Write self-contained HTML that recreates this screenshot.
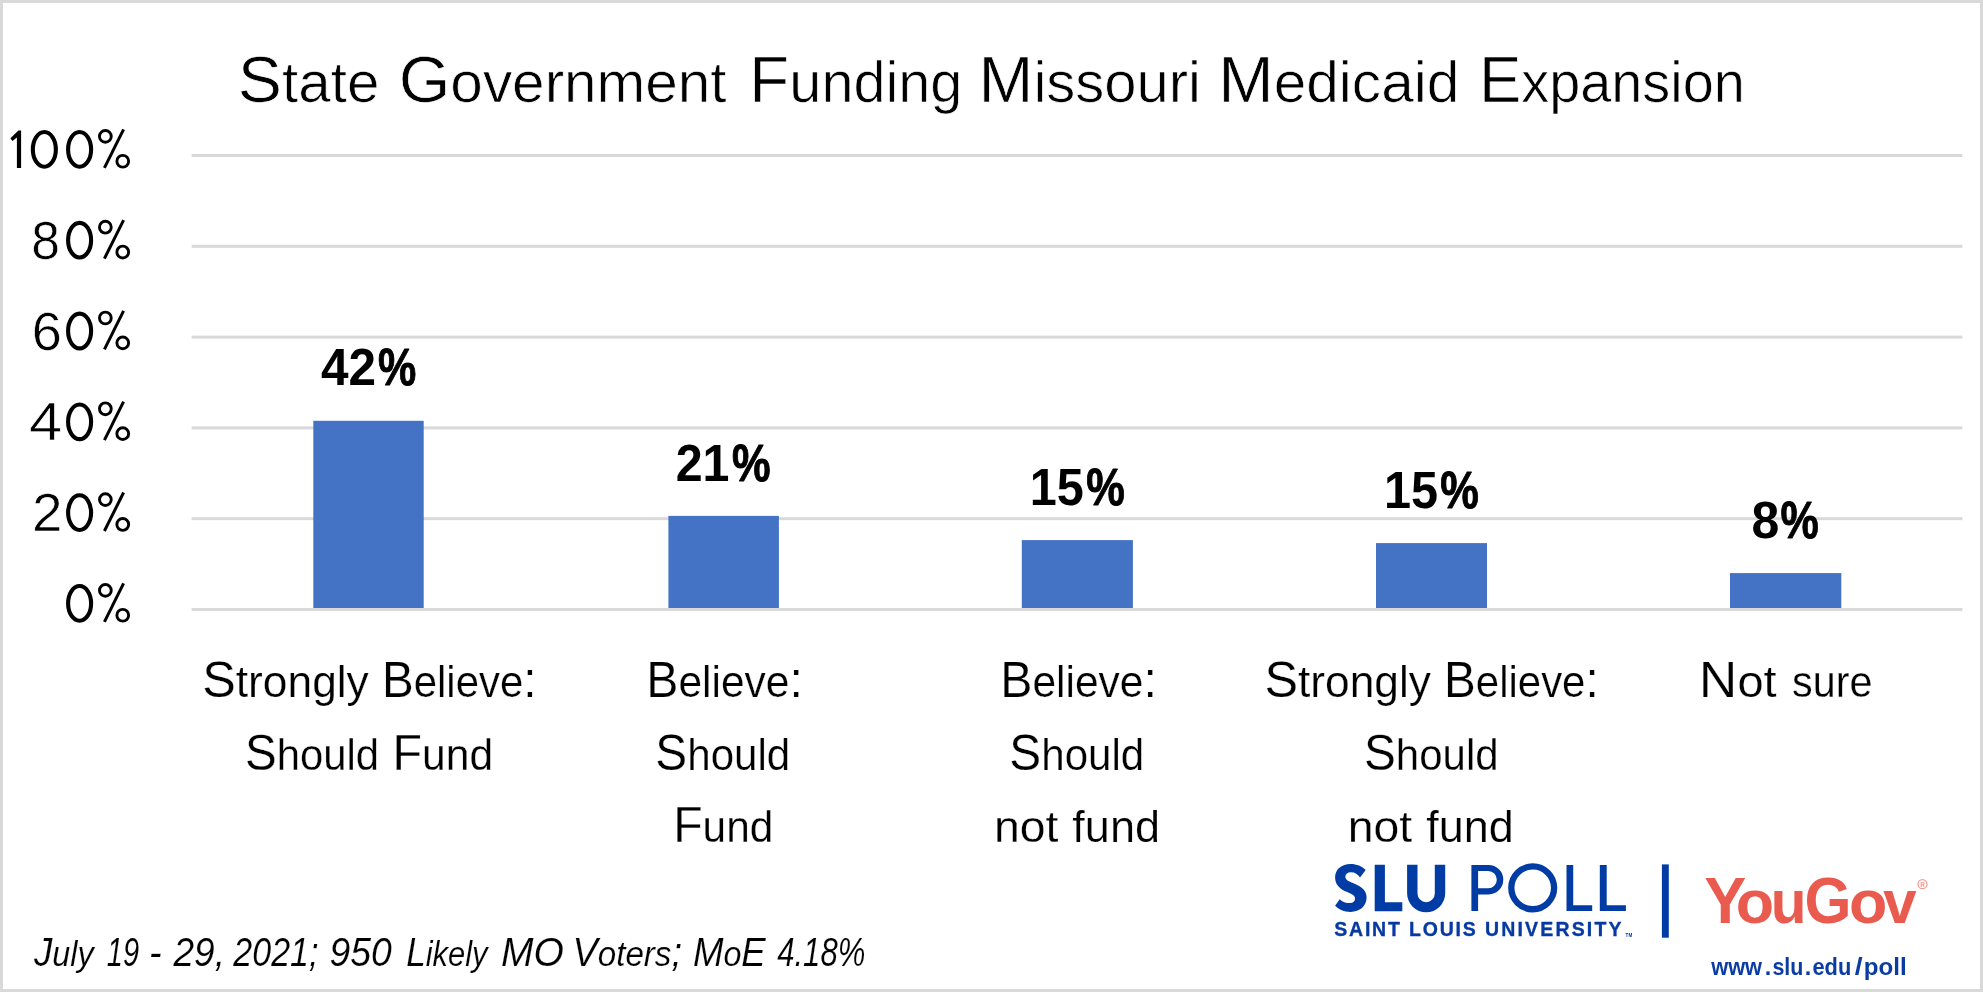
<!DOCTYPE html>
<html><head><meta charset="utf-8"><title>State Government Funding Missouri Medicaid Expansion</title>
<style>
html,body{margin:0;padding:0;background:#fff;}
body{width:1983px;height:992px;overflow:hidden;font-family:"Liberation Sans",sans-serif;}
svg{display:block;will-change:transform;font-family:"Liberation Sans",sans-serif;}
</style></head><body>
<svg width="1983" height="992" viewBox="0 0 1983 992">
<rect x="0" y="0" width="1983" height="992" fill="#ffffff"/>
<rect x="1.5" y="1.5" width="1980" height="989" fill="none" stroke="#d9d9d9" stroke-width="3"/>
<g id="grid">
<rect x="191.6" y="517.20" width="1770.8" height="3" fill="#d9d9d9"/>
<rect x="191.6" y="426.40" width="1770.8" height="3" fill="#d9d9d9"/>
<rect x="191.6" y="335.60" width="1770.8" height="3" fill="#d9d9d9"/>
<rect x="191.6" y="244.80" width="1770.8" height="3" fill="#d9d9d9"/>
<rect x="191.6" y="154.00" width="1770.8" height="3" fill="#d9d9d9"/>
</g>
<g id="bars">
<rect x="313.3" y="420.8" width="110.4" height="187.2" fill="#4472c4"/>
<rect x="668.4" y="515.9" width="110.5" height="92.1" fill="#4472c4"/>
<rect x="1021.8" y="540.1" width="111.1" height="67.9" fill="#4472c4"/>
<rect x="1376.0" y="543.1" width="111.0" height="64.9" fill="#4472c4"/>
<rect x="1730.0" y="573.1" width="111.3" height="34.9" fill="#4472c4"/>
</g>
<rect x="191.6" y="608.00" width="1770.8" height="3" fill="#d9d9d9"/>
<g id="ylabels">
<path d="M21.1 130.60H18.4L10.4 138.30L12.5 140.90L16.9 137.40V168.0H21.1Z" fill="#000"/>
<ellipse cx="44.35" cy="149.40" rx="11.5" ry="17.35" fill="none" stroke="#000" stroke-width="4.1"/>
<ellipse cx="79.6" cy="149.40" rx="11.5" ry="17.35" fill="none" stroke="#000" stroke-width="4.1"/>
<circle cx="105.36" cy="136.40" r="5.88" fill="none" stroke="#000" stroke-width="2.9"/><circle cx="122.75" cy="161.25" r="5.88" fill="none" stroke="#000" stroke-width="2.9"/><path d="M123.6 129.30L104.4 167.80" fill="none" stroke="#000" stroke-width="3"/>
<ellipse cx="79.6" cy="240.20" rx="11.5" ry="17.35" fill="none" stroke="#000" stroke-width="4.1"/>
<circle cx="105.36" cy="227.20" r="5.88" fill="none" stroke="#000" stroke-width="2.9"/><circle cx="122.75" cy="252.05" r="5.88" fill="none" stroke="#000" stroke-width="2.9"/><path d="M123.6 220.10L104.4 258.60" fill="none" stroke="#000" stroke-width="3"/>
<ellipse cx="79.6" cy="331.00" rx="11.5" ry="17.35" fill="none" stroke="#000" stroke-width="4.1"/>
<circle cx="105.36" cy="318.00" r="5.88" fill="none" stroke="#000" stroke-width="2.9"/><circle cx="122.75" cy="342.85" r="5.88" fill="none" stroke="#000" stroke-width="2.9"/><path d="M123.6 310.90L104.4 349.40" fill="none" stroke="#000" stroke-width="3"/>
<ellipse cx="79.6" cy="421.80" rx="11.5" ry="17.35" fill="none" stroke="#000" stroke-width="4.1"/>
<circle cx="105.36" cy="408.80" r="5.88" fill="none" stroke="#000" stroke-width="2.9"/><circle cx="122.75" cy="433.65" r="5.88" fill="none" stroke="#000" stroke-width="2.9"/><path d="M123.6 401.70L104.4 440.20" fill="none" stroke="#000" stroke-width="3"/>
<ellipse cx="79.6" cy="512.60" rx="11.5" ry="17.35" fill="none" stroke="#000" stroke-width="4.1"/>
<circle cx="105.36" cy="499.60" r="5.88" fill="none" stroke="#000" stroke-width="2.9"/><circle cx="122.75" cy="524.45" r="5.88" fill="none" stroke="#000" stroke-width="2.9"/><path d="M123.6 492.50L104.4 531.00" fill="none" stroke="#000" stroke-width="3"/>
<ellipse cx="79.6" cy="603.40" rx="11.5" ry="17.35" fill="none" stroke="#000" stroke-width="4.1"/>
<circle cx="105.36" cy="590.40" r="5.88" fill="none" stroke="#000" stroke-width="2.9"/><circle cx="122.75" cy="615.25" r="5.88" fill="none" stroke="#000" stroke-width="2.9"/><path d="M123.6 583.30L104.4 621.80" fill="none" stroke="#000" stroke-width="3"/>
</g>
<g id="labels" fill="#000">
<text transform="translate(237.82 102.00) scale(1.0283 1)" font-size="64.5" stroke="#fff" stroke-width="0.7">S<tspan font-size="56.76">tate</tspan></text>
<text transform="translate(398.68 102.00) scale(1.0303 1)" font-size="64.5" stroke="#fff" stroke-width="0.7">G<tspan font-size="56.76">overnment</tspan></text>
<text transform="translate(749.36 102.00) scale(1.0153 1)" font-size="64.5" stroke="#fff" stroke-width="0.7">F<tspan font-size="56.76">unding</tspan></text>
<text transform="translate(978.53 102.00) scale(1.0212 1)" font-size="64.5" stroke="#fff" stroke-width="0.7">M<tspan font-size="56.76">issouri</tspan></text>
<text transform="translate(1218.17 102.00) scale(1.0326 1)" font-size="64.5" stroke="#fff" stroke-width="0.7">M<tspan font-size="56.76">edicaid</tspan></text>
<text transform="translate(1478.92 102.00) scale(0.9840 1)" font-size="64.5" stroke="#fff" stroke-width="0.7">E<tspan font-size="56.76">xpansion</tspan></text>
<text transform="translate(31.24 258.80) scale(0.9732 1)" font-size="53" stroke="#fff" stroke-width="0.6">8</text>
<text transform="translate(31.69 349.60) scale(1.0225 1)" font-size="53" stroke="#fff" stroke-width="0.6">6</text>
<text transform="translate(29.01 440.40) scale(1.1210 1)" font-size="53" stroke="#fff" stroke-width="0.6">4</text>
<text transform="translate(32.06 531.20) scale(1.0336 1)" font-size="53" stroke="#fff" stroke-width="0.6">2</text>
<text transform="translate(321.06 385.40) scale(0.9719 1)" font-size="51" font-weight="bold">42</text>
<text transform="translate(377.94 385.40) scale(0.8446 1)" font-size="51" stroke="#000" stroke-width="0.9" stroke-linejoin="round" font-weight="bold">%</text>
<text transform="translate(675.65 480.60) scale(0.9487 1)" font-size="51" font-weight="bold">21</text>
<text transform="translate(732.03 480.60) scale(0.8516 1)" font-size="51" stroke="#000" stroke-width="0.9" stroke-linejoin="round" font-weight="bold">%</text>
<text transform="translate(1029.78 504.80) scale(0.9535 1)" font-size="51" font-weight="bold">15</text>
<text transform="translate(1086.13 504.80) scale(0.8516 1)" font-size="51" stroke="#000" stroke-width="0.9" stroke-linejoin="round" font-weight="bold">%</text>
<text transform="translate(1383.98 507.80) scale(0.9535 1)" font-size="51" font-weight="bold">15</text>
<text transform="translate(1440.33 507.80) scale(0.8516 1)" font-size="51" stroke="#000" stroke-width="0.9" stroke-linejoin="round" font-weight="bold">%</text>
<text transform="translate(1751.50 538.00) scale(0.9804 1)" font-size="51" font-weight="bold">8</text>
<text transform="translate(1780.54 538.00) scale(0.8446 1)" font-size="51" stroke="#000" stroke-width="0.9" stroke-linejoin="round" font-weight="bold">%</text>
<text transform="translate(202.23 697.30) scale(1.0171 1)" font-size="49.5" stroke="#fff" stroke-width="0.25">S<tspan font-size="43.56">trongly</tspan></text>
<text transform="translate(381.89 697.30) scale(0.9627 1)" font-size="49.5" stroke="#fff" stroke-width="0.25">B<tspan font-size="43.56">elieve</tspan>:</text>
<text transform="translate(1264.43 697.30) scale(1.0171 1)" font-size="49.5" stroke="#fff" stroke-width="0.25">S<tspan font-size="43.56">trongly</tspan></text>
<text transform="translate(1444.09 697.30) scale(0.9627 1)" font-size="49.5" stroke="#fff" stroke-width="0.25">B<tspan font-size="43.56">elieve</tspan>:</text>
<text transform="translate(245.06 769.80) scale(0.9599 1)" font-size="49.5" stroke="#fff" stroke-width="0.25">S<tspan font-size="43.56">hould</tspan></text>
<text transform="translate(392.53 769.80) scale(0.9772 1)" font-size="49.5" stroke="#fff" stroke-width="0.25">F<tspan font-size="43.56">und</tspan></text>
<text transform="translate(646.24 697.30) scale(0.9759 1)" font-size="49.5" stroke="#fff" stroke-width="0.25">B<tspan font-size="43.56">elieve</tspan>:</text>
<text transform="translate(655.35 769.80) scale(0.9665 1)" font-size="49.5" stroke="#fff" stroke-width="0.25">S<tspan font-size="43.56">hould</tspan></text>
<text transform="translate(673.15 842.30) scale(0.9731 1)" font-size="49.5" stroke="#fff" stroke-width="0.25">F<tspan font-size="43.56">und</tspan></text>
<text transform="translate(1000.24 697.30) scale(0.9759 1)" font-size="49.5" stroke="#fff" stroke-width="0.25">B<tspan font-size="43.56">elieve</tspan>:</text>
<text transform="translate(1009.35 769.80) scale(0.9665 1)" font-size="49.5" stroke="#fff" stroke-width="0.25">S<tspan font-size="43.56">hould</tspan></text>
<text transform="translate(993.89 842.30) scale(1.0642 1)" font-size="49.5" stroke="#fff" stroke-width="0.25"><tspan font-size="43.56">not</tspan></text>
<text transform="translate(1072.35 842.30) scale(1.0345 1)" font-size="49.5" stroke="#fff" stroke-width="0.25"><tspan font-size="43.56">fund</tspan></text>
<text transform="translate(1364.05 769.80) scale(0.9636 1)" font-size="49.5" stroke="#fff" stroke-width="0.25">S<tspan font-size="43.56">hould</tspan></text>
<text transform="translate(1347.79 842.30) scale(1.0642 1)" font-size="49.5" stroke="#fff" stroke-width="0.25"><tspan font-size="43.56">not</tspan></text>
<text transform="translate(1426.25 842.30) scale(1.0345 1)" font-size="49.5" stroke="#fff" stroke-width="0.25"><tspan font-size="43.56">fund</tspan></text>
<text transform="translate(1698.83 697.30) scale(1.0795 1)" font-size="49.5" stroke="#fff" stroke-width="0.25">N<tspan font-size="43.56">ot</tspan></text>
<text transform="translate(1792.07 697.30) scale(0.9480 1)" font-size="49.5" stroke="#fff" stroke-width="0.25"><tspan font-size="43.56">sure</tspan></text>
<text transform="translate(33.98 966.00) scale(0.9108 1)" font-size="40.3" stroke="#fff" stroke-width="0.15" font-style="italic">J<tspan font-size="35.46">uly</tspan></text>
<text transform="translate(106.87 966.00) scale(0.7205 1)" font-size="40.3" stroke="#fff" stroke-width="0.15" font-style="italic">19</text>
<text transform="translate(149.01 966.00) scale(0.9364 1)" font-size="40.3" stroke="#fff" stroke-width="0.15" font-style="italic">-</text>
<text transform="translate(173.47 966.00) scale(0.9195 1)" font-size="40.3" stroke="#fff" stroke-width="0.15" font-style="italic">29,</text>
<text transform="translate(233.34 966.00) scale(0.8436 1)" font-size="40.3" stroke="#fff" stroke-width="0.15" font-style="italic">2021;</text>
<text transform="translate(329.48 966.00) scale(0.9273 1)" font-size="40.3" stroke="#fff" stroke-width="0.15" font-style="italic">950</text>
<text transform="translate(406.15 966.00) scale(0.8725 1)" font-size="40.3" stroke="#fff" stroke-width="0.15" font-style="italic">L<tspan font-size="35.46">ikely</tspan></text>
<text transform="translate(500.93 966.00) scale(0.9683 1)" font-size="40.3" stroke="#fff" stroke-width="0.15" font-style="italic">MO</text>
<text transform="translate(572.60 966.00) scale(0.9352 1)" font-size="40.3" stroke="#fff" stroke-width="0.15" font-style="italic">V<tspan font-size="35.46">oters</tspan>;</text>
<text transform="translate(692.90 966.00) scale(0.9083 1)" font-size="40.3" stroke="#fff" stroke-width="0.15" font-style="italic">M<tspan font-size="35.46">o</tspan>E</text>
<text transform="translate(777.14 966.00) scale(0.7725 1)" font-size="40.3" stroke="#fff" stroke-width="0.15" font-style="italic">4.18%</text>
<text transform="translate(1334.31 936.30) scale(0.9600 1)" font-size="20.3" letter-spacing="1.859" stroke="#063aa2" stroke-width="0.35" stroke-linejoin="round" font-weight="bold" fill="#063aa2">SAINT</text>
<text transform="translate(1409.03 936.30) scale(0.9600 1)" font-size="20.3" letter-spacing="1.885" stroke="#063aa2" stroke-width="0.35" stroke-linejoin="round" font-weight="bold" fill="#063aa2">LOUIS</text>
<text transform="translate(1484.93 936.30) scale(0.9600 1)" font-size="20.3" letter-spacing="2.287" stroke="#063aa2" stroke-width="0.35" stroke-linejoin="round" font-weight="bold" fill="#063aa2">UNIVERSITY</text>
<text transform="translate(1704.36 922.90) scale(0.9747 1)" font-size="64.6" font-weight="bold" fill="#ea5b4f">Y</text>
<text transform="translate(1735.80 922.90) scale(0.9718 0.957)" font-size="64.6" font-weight="bold" fill="#ea5b4f">o</text>
<text transform="translate(1770.79 922.90) scale(0.9065 0.957)" font-size="64.6" font-weight="bold" fill="#ea5b4f">u</text>
<text transform="translate(1804.58 922.90) scale(0.9356 1)" font-size="64.6" font-weight="bold" fill="#ea5b4f">G</text>
<text transform="translate(1848.90 922.90) scale(0.9718 0.957)" font-size="64.6" font-weight="bold" fill="#ea5b4f">o</text>
<text transform="translate(1883.20 922.90) scale(0.9288 0.957)" font-size="64.6" font-weight="bold" fill="#ea5b4f">v</text>
<text transform="translate(1711.21 974.70) scale(0.9473 1)" font-size="23" font-weight="bold" fill="#0a3ca3">www</text>
<text transform="translate(1764.78 974.70) scale(1.0195 1)" font-size="23" font-weight="bold" fill="#0a3ca3">.</text>
<text transform="translate(1772.45 974.70) scale(0.9317 1)" font-size="23" font-weight="bold" fill="#0a3ca3">slu</text>
<text transform="translate(1804.78 974.70) scale(1.0195 1)" font-size="23" font-weight="bold" fill="#0a3ca3">.</text>
<text transform="translate(1812.44 974.70) scale(0.9489 1)" font-size="23" font-weight="bold" fill="#0a3ca3">edu</text>
<text transform="translate(1854.86 974.70) scale(1.2305 1)" font-size="23" font-weight="bold" fill="#0a3ca3">/</text>
<text transform="translate(1863.73 974.70) scale(1.0496 1)" font-size="23" font-weight="bold" fill="#0a3ca3">poll</text>
</g>
<g id="slu" fill="#013ca4" stroke="none">
<!-- S -->
<path d="M1365.7 870.1L1360 877.4C1357.8 874.2 1354.8 872.2 1351.2 872.2C1347.6 872.2 1345.4 874.2 1345.4 876.8C1345.4 880.2 1349 881.5 1354 883.5C1361.5 886.5 1366.6 890.5 1366.6 897.3C1366.6 906.3 1359.8 911.9 1350.6 911.9C1344.2 911.9 1338.6 909.6 1335.1 905.8L1339.7 899.2C1342.3 901.7 1345.8 903.1 1350 903.1C1353.2 903.1 1355.1 901.3 1355.1 898.6C1355.1 895.2 1351.5 893.8 1346.5 891.7C1340 889 1335.1 884.6 1335.1 877.4C1335.1 869.5 1341.5 864.1 1350.6 864.1C1356.8 864.1 1362 866.3 1365.7 870.1Z"/>
<!-- L -->
<path d="M1374.7 864.8H1384.9V902.2H1402.3V911.2H1374.7Z"/>
<!-- U -->
<path d="M1407.1 864.8H1417.5V893.5A8.65 8.65 0 0 0 1434.8 893.5V864.8H1445.2V893.3A19.05 19.05 0 0 1 1407.1 893.3Z"/>
<!-- P -->
<path d="M1471.4 865H1488.6A14.7 14.7 0 0 1 1488.6 894.4H1478.1V911H1471.4ZM1478.1 871.1V888.3H1488.2A8.6 8.6 0 0 0 1488.2 871.1Z" fill-rule="evenodd"/>
<!-- O -->
<circle cx="1532.7" cy="887.85" r="21.4" fill="none" stroke="#013ca4" stroke-width="6.3"/>
<!-- L L -->
<path d="M1566.5 865H1573.2V905.3H1592.2V911H1566.5Z"/>
<path d="M1599.8 865H1606.7V905.3H1625.9V911H1599.8Z"/>
<!-- bar -->
<rect x="1661.9" y="864.4" width="6.9" height="73.3"/>
<!-- TM -->
<text transform="translate(1625.6 936.6)" font-size="4.6" font-weight="bold">TM</text>
</g>
<g id="reg" fill="none" stroke="#ea5b4f" opacity="0.6">
<circle cx="1922.5" cy="884.2" r="4.5" stroke-width="1.3"/>
<text transform="translate(1920.2 886.7)" font-size="6.5" font-weight="bold" fill="#ea5b4f" stroke="none">R</text>
</g>

</svg>
</body></html>
